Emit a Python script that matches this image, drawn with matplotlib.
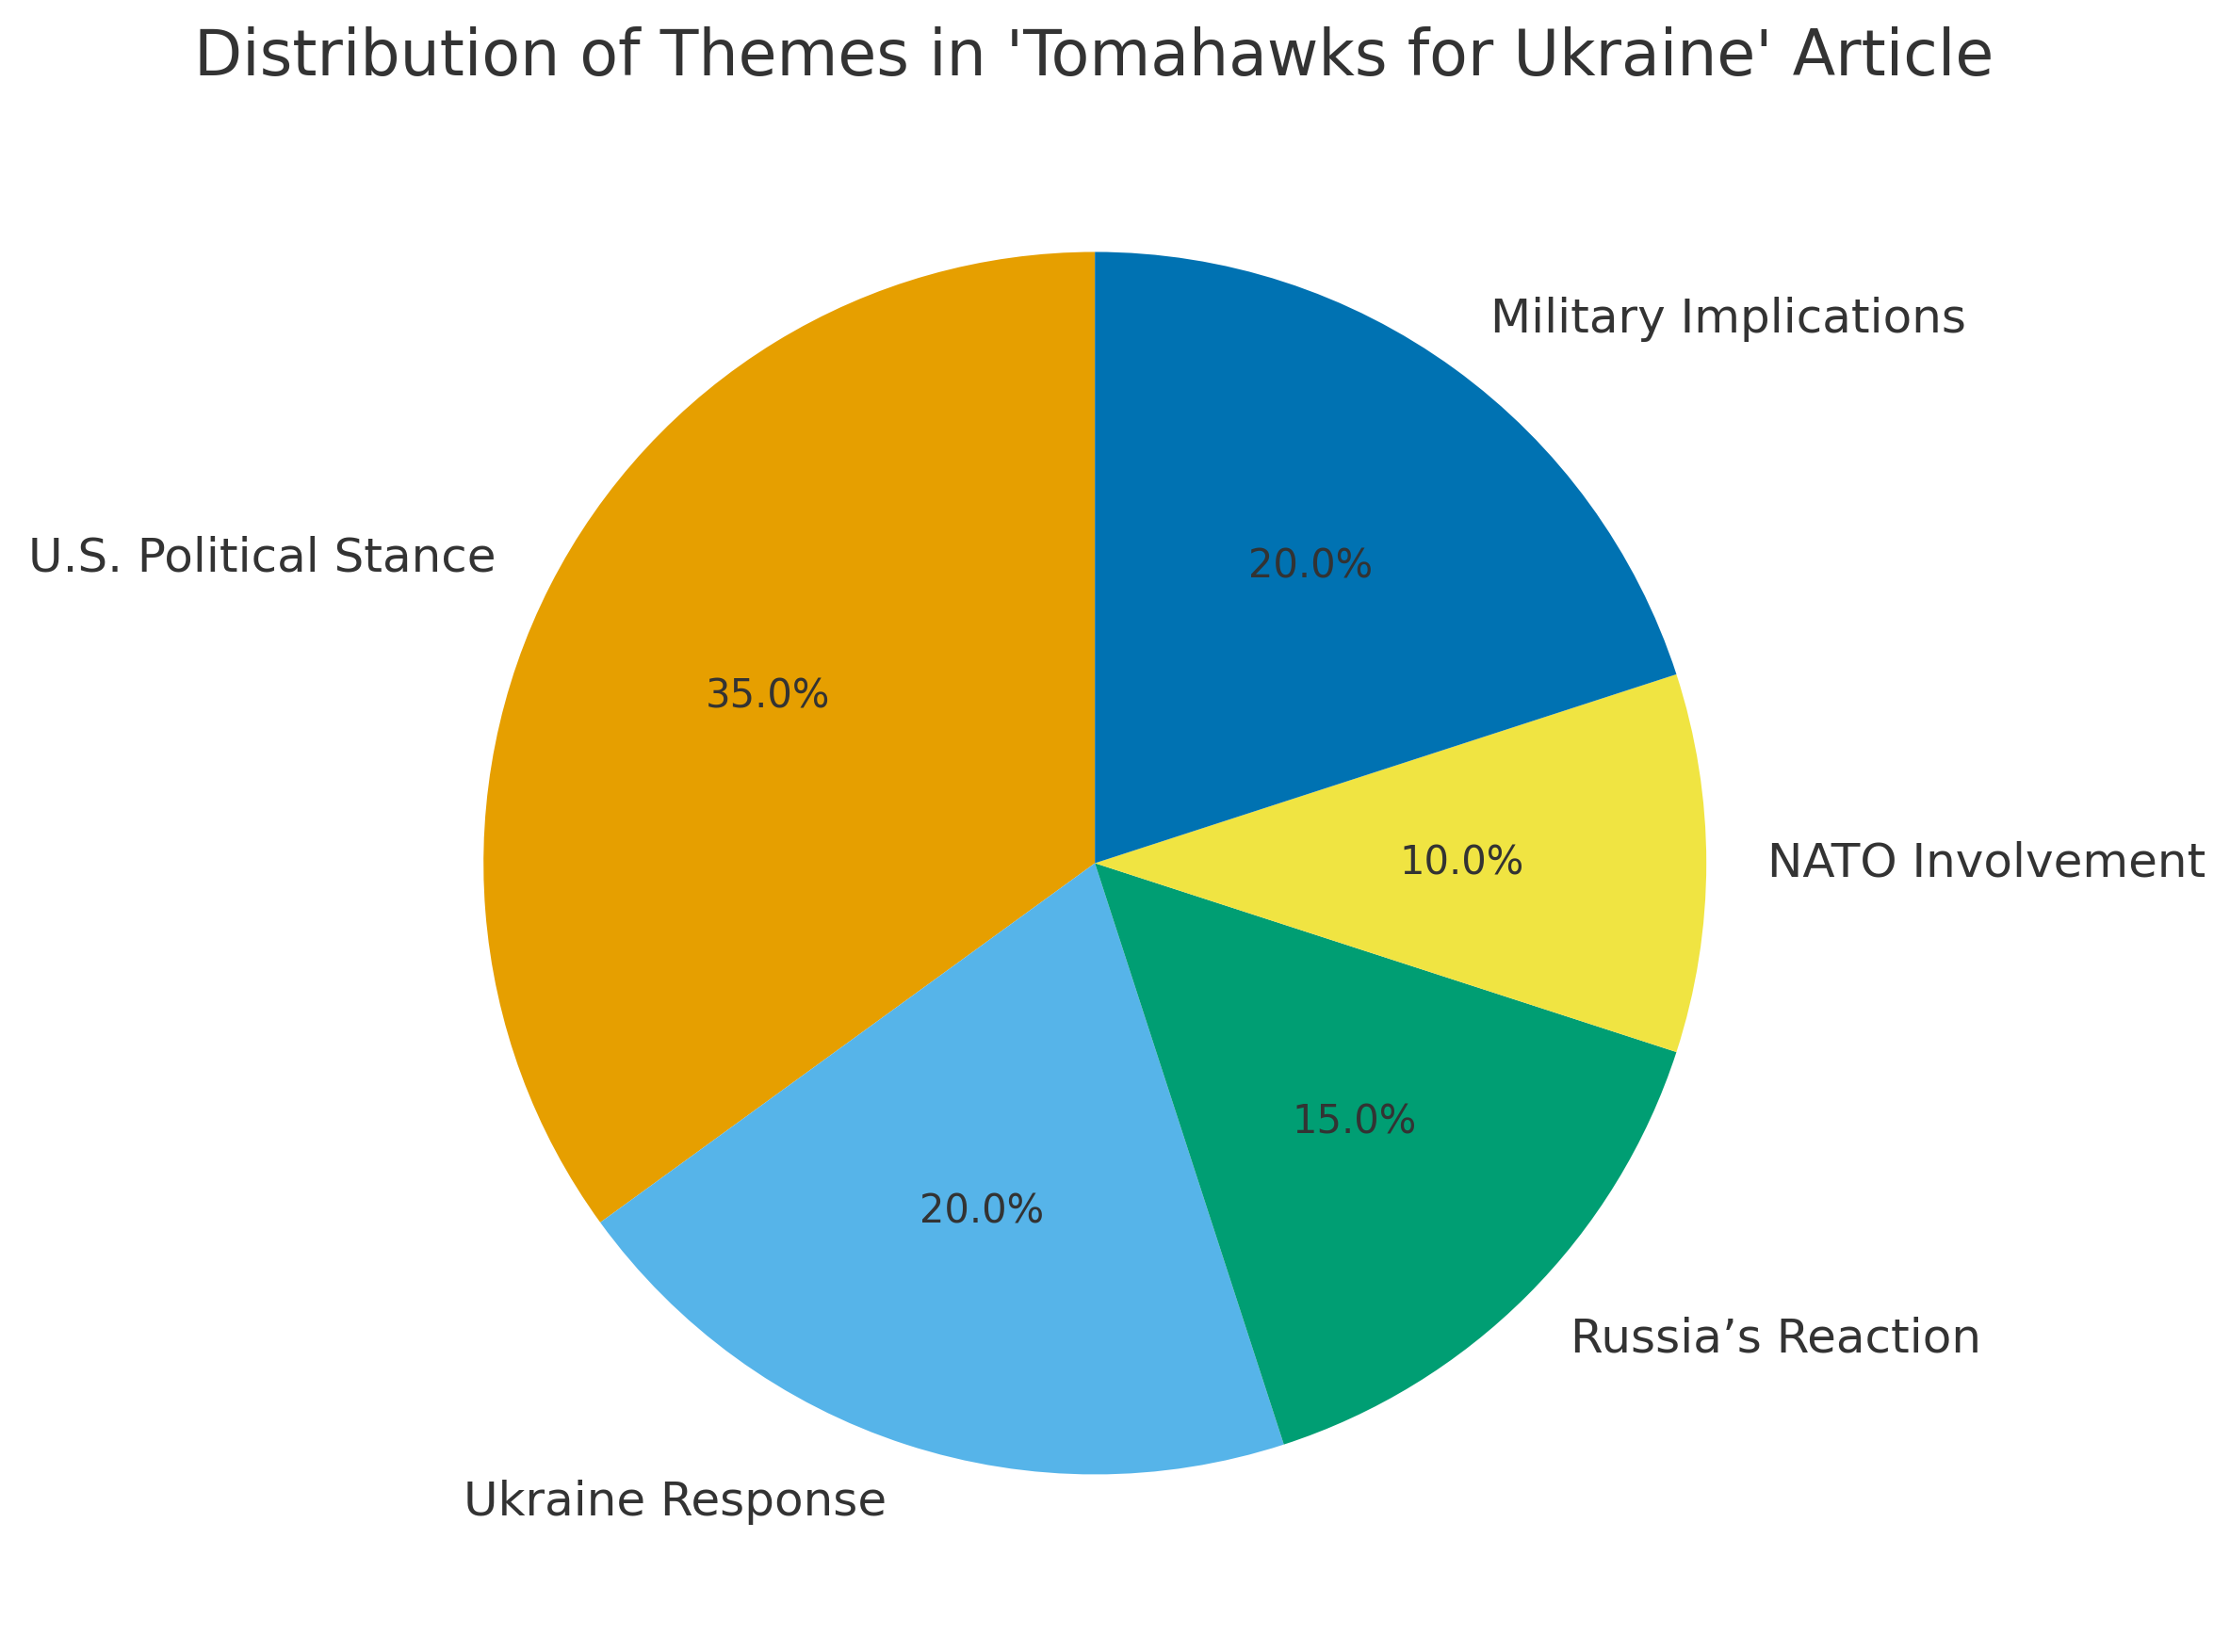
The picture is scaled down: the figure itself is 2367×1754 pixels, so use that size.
import matplotlib.pyplot as plt

# theme shares
labels = ["U.S. Political Stance", "Ukraine Response", "Russia\u2019s Reaction",
          "NATO Involvement", "Military Implications"]
shares = [35, 20, 15, 10, 20]
colors = ["#E69F00", "#56B4E9", "#009E73", "#F0E442", "#0072B2"]

plt.rcParams['font.family'] = ['DejaVu Sans']
txt = "#333333"

fig = plt.figure(figsize=(2367 / 300, 1754 / 300), dpi=300)
ax = fig.add_axes([0.1475, 0.015, 0.687, 0.925])

wedges, texts, autotexts = ax.pie(shares, labels=labels, colors=colors,
                                  autopct='%1.1f%%', startangle=90,
                                  textprops={'color': txt})
for t in texts:
    t.set_fontsize(12)
for t in autotexts:
    t.set_fontsize(10)
ax.set_aspect('equal')

fig.text(0.4905, 0.965, "Distribution of Themes in 'Tomahawks for Ukraine' Article",
         ha='center', va='center', fontsize=16, color=txt)

fig.savefig("out.png", dpi=300, facecolor='white')
